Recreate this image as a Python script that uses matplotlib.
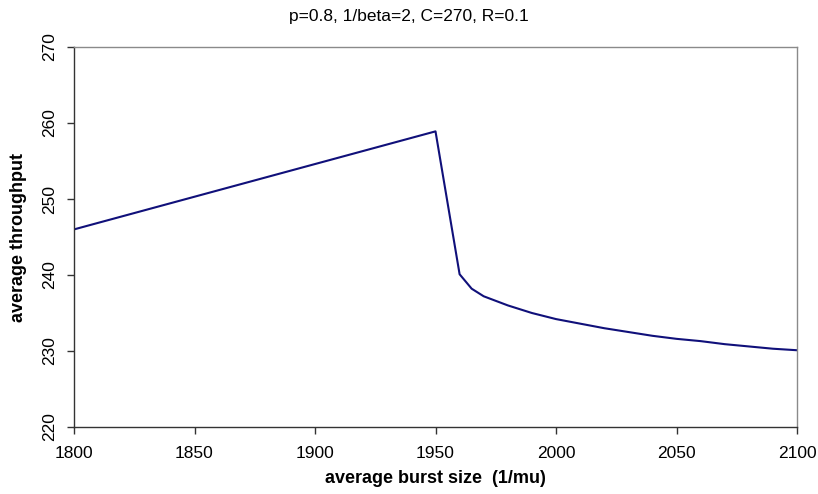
import matplotlib
matplotlib.use("Agg")
import matplotlib.pyplot as plt

plt.rcParams['font.family'] = ['Liberation Sans', 'DejaVu Sans']

burst_size = [1800, 1950, 1960, 1965, 1970, 1980, 1990, 2000, 2010, 2020,
              2030, 2040, 2050, 2060, 2070, 2080, 2090, 2100]
throughput = [246.0, 258.9, 240.1, 238.2, 237.2, 236.0, 235.0, 234.2, 233.6, 233.0,
              232.5, 232.0, 231.6, 231.3, 230.9, 230.6, 230.3, 230.1]
x_ticks = [1800, 1850, 1900, 1950, 2000, 2050, 2100]
y_ticks = [220, 230, 240, 250, 260, 270]
title = "p=0.8, 1/beta=2, C=270, R=0.1"

W, H = 818, 494
L, R, T, B = 74, 797, 47, 427
fig = plt.figure(figsize=(W/100, H/100), dpi=100)
ax = fig.add_axes([L/W, 1-B/H, (R-L)/W, (B-T)/H])
ax.plot(burst_size, throughput, color='#10107a', lw=1.5)
ax.set_xlim(1800, 2100)
ax.set_ylim(220, 270)
ax.set_xticks(x_ticks)
ax.set_yticks(y_ticks)
for side, s in ax.spines.items():
    s.set_color('#333333' if side in ('left', 'bottom') else '#8a8a8a')
    s.set_linewidth(1.0)
ax.tick_params(direction='out', length=5, width=1, color='#333333', labelsize=12.5)
ax.tick_params(axis='x', pad=9)
ax.tick_params(axis='y', pad=7)
for lab in ax.get_yticklabels():
    lab.set_rotation(90)
    lab.set_va('center')

fig.suptitle(title, x=409/W, y=1-17/H, va='center', ha='center', fontsize=12.5)

ax.set_xlabel("average burst size  (1/mu)", fontsize=13, fontweight='bold')
ax.xaxis.set_label_coords(0.5, -(470-B)/(B-T))
ax.xaxis.label.set_va('top')

ax.set_ylabel("average throughput", fontsize=13, fontweight='bold')
ax.yaxis.label.set(va='center', ha='center', rotation_mode='anchor')
ax.yaxis.set_label_coords(-(L-19)/(R-L), 0.5)

fig.savefig("out.png", dpi=100)
